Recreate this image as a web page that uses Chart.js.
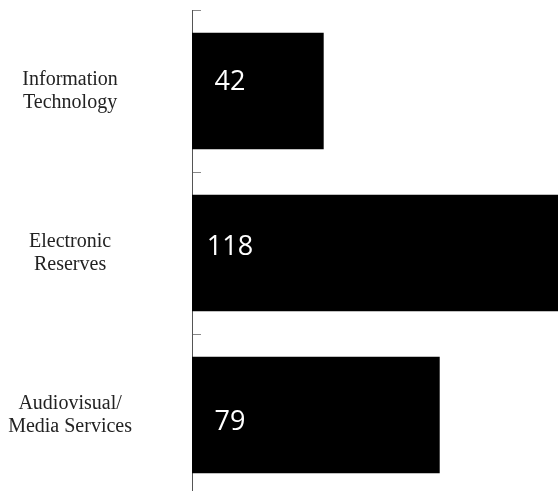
<!DOCTYPE html>
<html>
<head>
<meta charset="utf-8">
<script src="https://cdn.jsdelivr.net/npm/chart.js@4/dist/chart.umd.min.js"></script>
<style>
  html, body { margin: 0; padding: 0; background: #fff; overflow: hidden; }
  #wrap { width: 566px; height: 500px; }
</style>
</head>
<body>
<div id="wrap"><canvas id="barChart"></canvas></div>
<script>
// Services and their counts
const categories = [
  ['Information', 'Technology'],
  ['Electronic', 'Reserves'],
  ['Audiovisual/', 'Media Services']
];
const counts = [42, 118, 79];

// small vertical nudges for the value text inside each bar
const labelNudge = [-9, -6, 7];

// writes the count in white near the start of each bar
const valueLabels = {
  id: 'valueLabels',
  afterDatasetsDraw(chart) {
    const ctx = chart.ctx;
    const meta = chart.getDatasetMeta(0);
    ctx.save();
    ctx.fillStyle = '#fff';
    ctx.font = '27px "Open Sans"';
    ctx.textAlign = 'center';
    ctx.textBaseline = 'middle';
    meta.data.forEach(function(bar, i) {
      ctx.fillText(String(counts[i]), bar.base + 38, bar.y + labelNudge[i]);
    });
    ctx.restore();
  }
};

document.addEventListener("DOMContentLoaded", function() {
  const canvas = document.getElementById('barChart');

  new Chart(canvas, {
    type: 'bar',
    data: {
      labels: categories,
      datasets: [{
        data: counts,
        backgroundColor: '#000',
        borderWidth: 0,
        barPercentage: 0.72,
        categoryPercentage: 1
      }]
    },
    options: {
      indexAxis: 'y',
      responsive: true,
      maintainAspectRatio: false,
      animation: false,
      layout: { padding: { top: 10, bottom: 4, left: 0, right: 4 } },
      plugins: {
        legend: { display: false },
        tooltip: { enabled: false }
      },
      scales: {
        x: {
          display: false,
          min: 0,
          max: 118
        },
        y: {
          // fixed axis column; the big tick padding must not eat vertical room
          afterFit(scale) {
            scale.width = 192;
            scale.paddingTop = 0;
            scale.paddingBottom = 0;
          },
          border: { display: true, color: '#555', width: 1 },
          grid: {
            offset: true,
            drawOnChartArea: false,
            drawTicks: true,
            tickLength: -9,
            color: '#888'
          },
          ticks: {
            crossAlign: 'center',
            padding: 69,
            color: '#222',
            font: { family: '"Liberation Serif"', size: 20, lineHeight: 1.15 }
          }
        }
      }
    },
    plugins: [valueLabels]
  });
});
</script>
</body>
</html>
